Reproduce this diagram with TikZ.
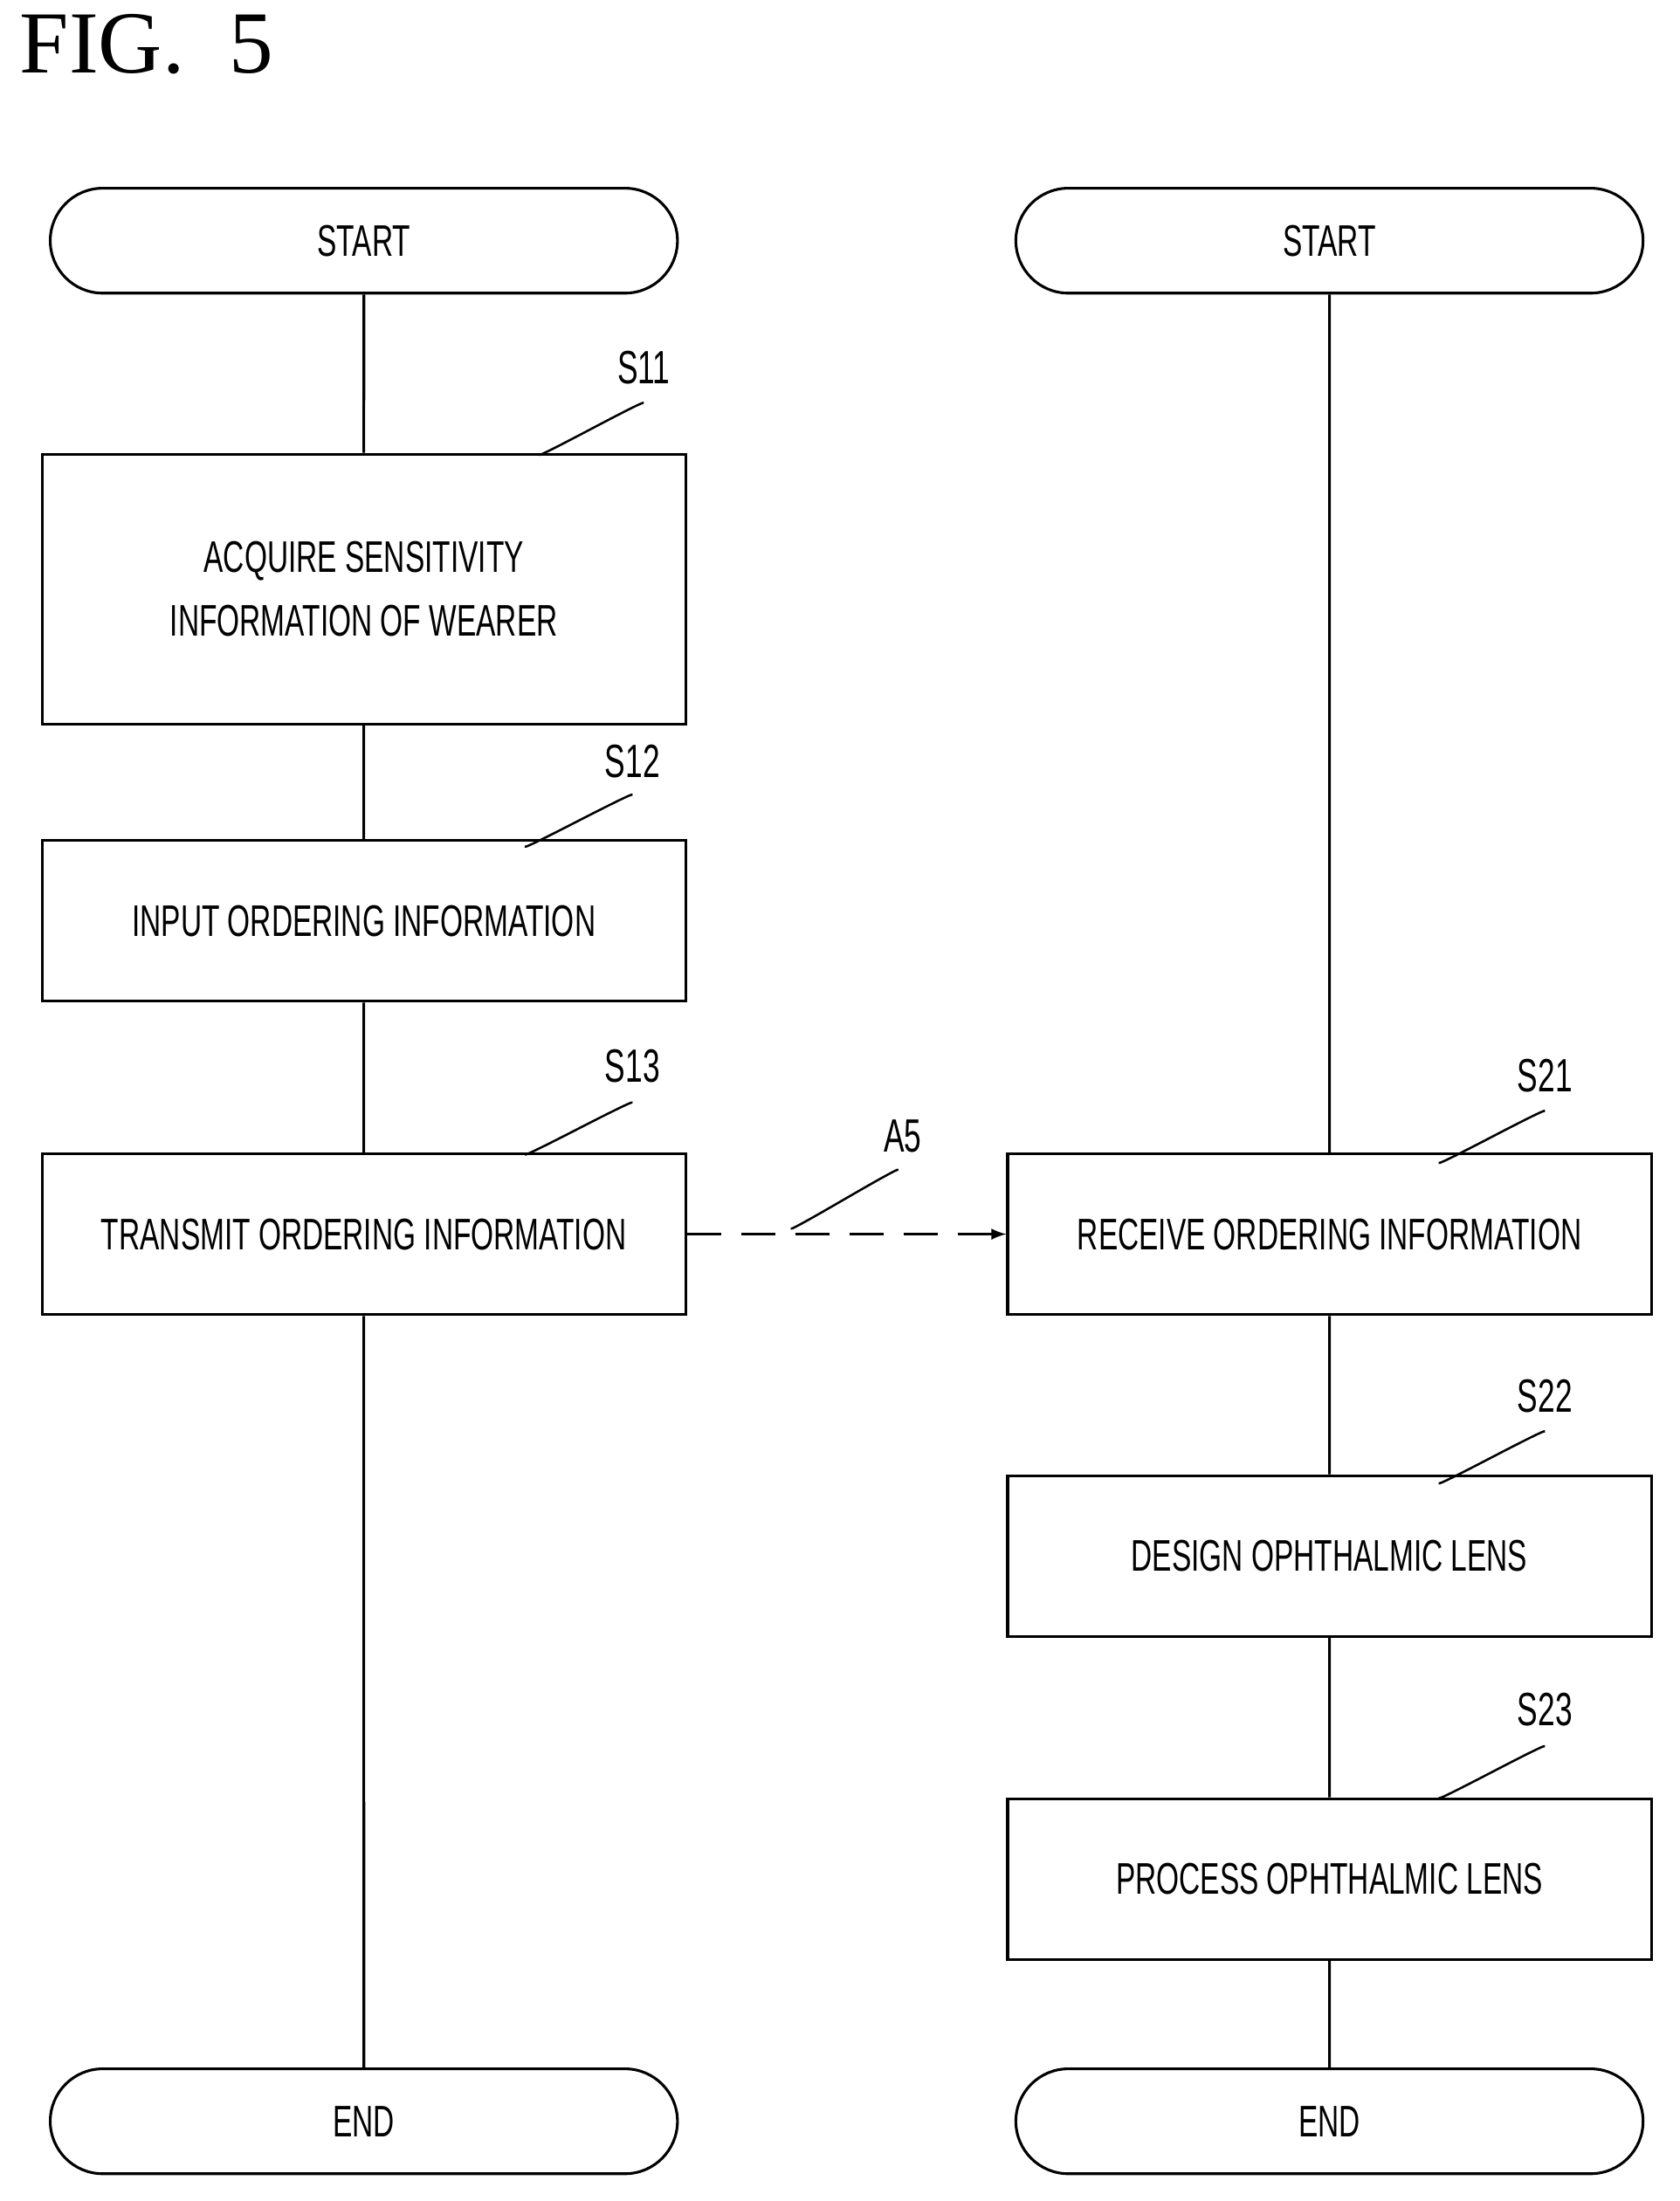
\documentclass[tikz,border=0pt]{standalone}
\usepackage{fontspec}
\setmainfont{Liberation Serif}
\newfontfamily\stepfont[FakeStretch=0.66]{Liberation Sans}
\usetikzlibrary{arrows,shapes.misc,calc}
\tikzset{>=latex}
\tikzset{
	procbox/.style={draw, line width=1.1pt, minimum width=9.2cm, align=center, font=\stepfont\fontsize{18}{26}\selectfont},
	term/.style={procbox, rounded rectangle, minimum height=1.5cm},
	tag/.style={font=\stepfont\fontsize{19}{20}\selectfont}
}
\newcommand{\squig}[2]{\draw[line width=0.9pt] (#1) .. controls ($(#1)+(0.1,0.55)$) and ($(#1)+(0.9,0.8)$) .. ($(#1)!0.5!(#2)$) .. controls ($(#2)+(-0.9,-0.8)$) and ($(#2)+(0.1,-0.55)$) .. (#2);}
\begin{document}
\begin{tikzpicture}[x=0.02cm,y=-0.02cm]
	\useasboundingbox (0,0) rectangle (1200,1573);
	\node[anchor=north west, font=\fontsize{36}{40}\selectfont] (fig) at (8,4) {FIG.\ \ 5};
	
	% Left column
	\node[term] (ls) at (260,172) {START};
	\node[procbox, minimum height=3.86cm] (s11) at (260,421) {ACQUIRE SENSITIVITY\\INFORMATION OF WEARER};
	\node[procbox, minimum height=2.3cm] (s12) at (260,658) {INPUT ORDERING INFORMATION};
	\node[procbox, minimum height=2.3cm] (s13) at (260,882) {TRANSMIT ORDERING INFORMATION};
	\node[term] (le) at (260,1516) {END};
	
	% Right column
	\node[term] (rs) at (950,172) {START};
	\node[procbox, minimum height=2.3cm] (s21) at (950,882) {RECEIVE ORDERING INFORMATION};
	\node[procbox, minimum height=2.3cm] (s22) at (950,1112) {DESIGN OPHTHALMIC LENS};
	\node[procbox, minimum height=2.3cm] (s23) at (950,1343) {PROCESS OPHTHALMIC LENS};
	\node[term] (re) at (950,1516) {END};
	
	% Connections
	\draw[line width=1.1pt] (ls) -- (s11) -- (s12) -- (s13) -- (le);
	\draw[line width=1.1pt] (rs) -- (s21) -- (s22) -- (s23) -- (re);
	\draw[line width=1.1pt, dashed, dash pattern=on 14pt off 8pt, ->] (s13.east) -- (s21.west);
	
	% Step labels
	\node[tag] (t11) at (460,263) {S11};
	\node[tag] (t12) at (452,544) {S12};
	\node[tag] (t13) at (452,762) {S13};
	\node[tag] (t21) at (1104,769) {S21};
	\node[tag] (t22) at (1104,998) {S22};
	\node[tag] (t23) at (1104,1222) {S23};
	\node[tag] (a5) at (645,812) {A5};
	\coordinate (q11) at (385,325); \coordinate (p11) at (460,288);
	\coordinate (q12) at (375,605); \coordinate (p12) at (452,568);
	\coordinate (q13) at (375,825); \coordinate (p13) at (452,788);
	\coordinate (q21) at (1028,831); \coordinate (p21) at (1104,794);
	\coordinate (q22) at (1028,1060); \coordinate (p22) at (1104,1023);
	\coordinate (q23) at (1028,1285); \coordinate (p23) at (1104,1248);
	\coordinate (qa) at (565,878); \coordinate (pa) at (642,836);
	\squig{q11}{p11} \squig{q12}{p12} \squig{q13}{p13}
	\squig{q21}{p21} \squig{q22}{p22} \squig{q23}{p23}
	\squig{qa}{pa}
\end{tikzpicture}
\end{document}
